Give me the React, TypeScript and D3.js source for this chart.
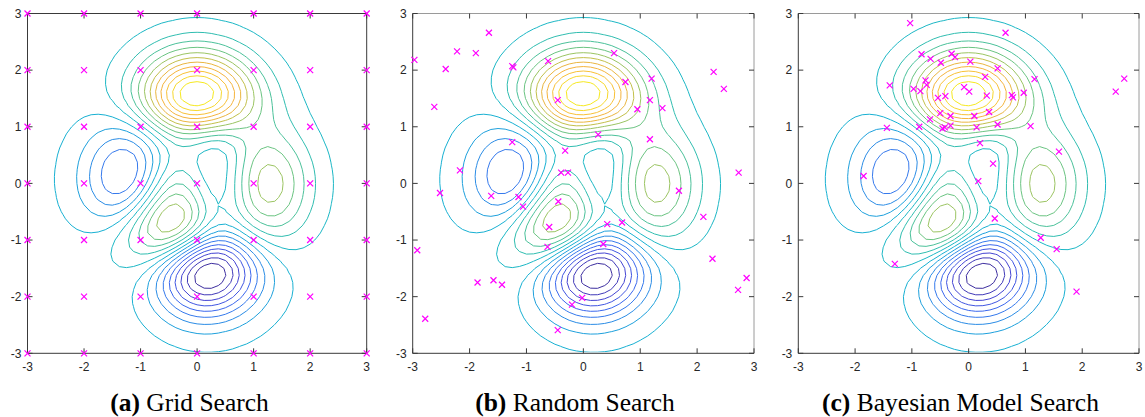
import React from "react";
import * as d3 from "d3";

// ---- data ----
const tickValues = [-3, -2, -1, 0, 1, 2, 3];
const captionLetters = ["(a)", "(b)", "(c)"];
const captionTexts = ["Grid Search", "Random Search", "Bayesian Model Search"];

// grid search samples: every integer point of [-3,3]^2
const gridX = [-3, -2, -1, 0, 1, 2, 3];
const gridY = [-3, -2, -1, 0, 1, 2, 3];

// random search samples
const randomX = [-2.97, -2.42, -2.22, -1.89, -1.66, -2.62, -1.25, -1.23, -0.62, 0.54, -0.45, 0.74, 1.2, 1.17, 0.95, 1.39, 2.29, 2.47, 0.26, 1.17, -1.25, -0.32, -2.17, -0.39, -0.27, 2.73, -2.52, 1.68, -1.62, -1.14, -1.06, -0.44, -0.6, -0.63, 0.42, 0.68, 0.35, 2.11, 2.27, 2.87, 2.72, -2.92, -1.86, -1.58, -1.43, -2.78, -0.02, -0.2, -0.45];
const randomY = [2.18, 2.02, 2.33, 2.3, 2.66, 1.35, 2.07, 2.05, 2.16, 2.3, 1.47, 1.79, 1.85, 1.47, 1.31, 1.33, 1.97, 1.67, 0.86, 0.78, 0.73, 0.58, 0.23, 0.19, 0.19, 0.19, -0.17, -0.13, -0.22, -0.24, -0.41, -0.32, -0.77, -1.12, -0.72, -0.69, -1.07, -0.59, -1.33, -1.67, -1.88, -1.18, -1.75, -1.71, -1.79, -2.39, -2.02, -2.14, -2.59];

// bayesian model search samples
const bayesX = [-1.03, 0.65, -0.83, -0.67, -0.49, -0.3, -0.24, 0.03, 0.51, 0.29, 1.16, -1.39, -0.76, -0.74, -0.97, -0.85, -0.08, 0.01, -0.54, -0.41, 0.32, 0.76, 0.78, 0.97, -0.5, -0.32, 0.1, 0.36, -0.68, -0.32, -0.42, -0.46, 0.14, 0.51, 1.09, -0.87, -1.44, 0.2, 0.43, 1.59, 0.17, -1.85, 2.59, 2.74, 0.46, 1.27, 1.55, -1.3, 1.9];
const bayesY = [2.83, 2.66, 2.28, 2.2, 2.13, 2.29, 2.23, 2.15, 2.03, 1.88, 1.84, 1.73, 1.82, 1.74, 1.67, 1.63, 1.7, 1.62, 1.51, 1.54, 1.55, 1.56, 1.52, 1.6, 1.24, 1.19, 1.19, 1.26, 1.13, 1.02, 0.99, 0.97, 0.99, 1.04, 1.01, 1.0, 0.98, 0.71, 0.35, 0.56, 0.04, 0.13, 1.62, 1.85, -0.62, -0.96, -1.16, -1.42, -1.91];

// parula-like colormap anchors (position in [0,1] -> colour)
const cmapStops = [0, 0.05, 0.15, 0.25, 0.31, 0.38, 0.43, 0.48, 0.55, 0.62, 0.67, 0.72, 0.77, 0.83, 0.88, 0.93, 1];
const cmapColors = ["#3a2290", "#3d2fa0", "#4446d6", "#3a6cf0", "#3182ea", "#1ea0dc", "#18b0d2", "#1cb8c4", "#3cc0a4", "#6cc482", "#9ec460", "#c8c048", "#f0b440", "#f8b43c", "#f8cc34", "#f5e426", "#f9f414"];

// contour field: MATLAB "peaks" surface, 49 x 49 samples over [-3,3]
const gridSize = 49;
const levelCount = 20;
function peaks(x: number, y: number) {
  return (
    3 * (1 - x) ** 2 * Math.exp(-(x * x) - (y + 1) ** 2) -
    10 * (x / 5 - x ** 3 - y ** 5) * Math.exp(-x * x - y * y) -
    (1 / 3) * Math.exp(-((x + 1) ** 2) - y * y)
  );
}

// ---- layout ----
const panels = [
  { x0: 27.5, x1: 366.7, cap: 189.5, full: true },
  { x0: 412.7, x1: 754, cap: 575, full: false },
  { x0: 798.3, x1: 1139, cap: 960.5, full: false },
];
const yTop = 13.5;
const yBot = 353.3;

const step = 6 / (gridSize - 1);
const values: number[] = [];
for (let j = 0; j < gridSize; j++) {
  for (let i = 0; i < gridSize; i++) {
    values.push(peaks(-3 + i * step, -3 + j * step));
  }
}
const [zMin, zMax] = d3.extent(values) as [number, number];
const levels = d3.range(1, levelCount + 1).map((k) => zMin + (k * (zMax - zMin)) / (levelCount + 1));
const cmap = d3.scaleLinear<string>().domain(cmapStops).range(cmapColors).interpolate(d3.interpolateRgb).clamp(true);
const contourSet = d3.contours().size([gridSize, gridSize]).thresholds(levels)(values);

function Panel({ idx, px, py }: { idx: number; px: number[]; py: number[] }) {
  const p = panels[idx];
  const sx = d3.scaleLinear().domain([-3, 3]).range([p.x0, p.x1]);
  const sy = d3.scaleLinear().domain([-3, 3]).range([yBot, yTop]);
  const proj = d3.geoTransform({
    point(this: any, x: number, y: number) {
      this.stream.point(sx(-3 + (x - 0.5) * step), sy(-3 + (y - 0.5) * step));
    },
  });
  const path = d3.geoPath(proj);
  const clipId = `clip${idx}`;
  const dark = "#3a3a3a";
  const light = p.full ? "#3a3a3a" : "#9a9a9a";
  const tl = 5;
  const ms = 3;
  return (
    <g>
      <defs>
        <clipPath id={clipId}>
          <rect x={p.x0 + 1} y={yTop + 1} width={p.x1 - p.x0 - 2} height={yBot - yTop - 2} />
        </clipPath>
      </defs>
      <g clipPath={`url(#${clipId})`}>
        {contourSet.map((c, k) => (
          <path key={k} d={path(c as any) || ""} fill="none" stroke={cmap((c.value - zMin) / (zMax - zMin))} strokeWidth={1} />
        ))}
      </g>
      {/* box */}
      <line x1={p.x0} x2={p.x1} y1={yTop} y2={yTop} stroke={light} strokeWidth={1} />
      <line x1={p.x1} x2={p.x1} y1={yTop} y2={yBot} stroke={light} strokeWidth={1} />
      <line x1={p.x0} x2={p.x0} y1={yTop} y2={yBot} stroke={dark} strokeWidth={1} />
      <line x1={p.x0} x2={p.x1} y1={yBot} y2={yBot} stroke={dark} strokeWidth={1} />
      {tickValues.map((t) => (
        <g key={t}>
          <line x1={sx(t)} x2={sx(t)} y1={yBot} y2={yBot - tl} stroke={dark} />
          <line x1={sx(t)} x2={sx(t)} y1={yTop} y2={yTop + tl} stroke={dark} />
          <line x1={p.x0} x2={p.x0 + tl} y1={sy(t)} y2={sy(t)} stroke={dark} />
          <line x1={p.x1} x2={p.x1 - tl} y1={sy(t)} y2={sy(t)} stroke={dark} />
          <text x={sx(t)} y={yBot + 18} textAnchor="middle" fontSize={12} fill="#262626" fontFamily="Liberation Sans, Arial, sans-serif">
            {String(t)}
          </text>
          <text x={p.x0 - 6} y={sy(t) + 4.3} textAnchor="end" fontSize={12} fill="#262626" fontFamily="Liberation Sans, Arial, sans-serif">
            {String(t)}
          </text>
        </g>
      ))}
      {px.map((x, i) => {
        const cx = sx(x);
        const cy = sy(py[i]);
        return (
          <path key={i} d={`M${cx - ms},${cy - ms}L${cx + ms},${cy + ms}M${cx - ms},${cy + ms}L${cx + ms},${cy - ms}`} stroke="#ff00ff" strokeWidth={1.2} fill="none" />
        );
      })}
      <text x={p.cap} y={411} textAnchor="middle" fontSize={25.5} fontFamily="Liberation Serif, Times New Roman, serif" fill="#000">
        <tspan fontWeight="bold">{captionLetters[idx]}</tspan>
        <tspan> {captionTexts[idx]}</tspan>
      </text>
    </g>
  );
}

export default function App() {
  const gx: number[] = [];
  const gy: number[] = [];
  gridY.forEach((y) => gridX.forEach((x) => { gx.push(x); gy.push(y); }));
  return (
    <svg width={1145} height={417} style={{ position: "absolute", left: 0, top: 0, background: "#fff" }}>
      <rect x={0} y={0} width={1145} height={417} fill="#fff" />
      <Panel idx={0} px={gx} py={gy} />
      <Panel idx={1} px={randomX} py={randomY} />
      <Panel idx={2} px={bayesX} py={bayesY} />
    </svg>
  );
}
